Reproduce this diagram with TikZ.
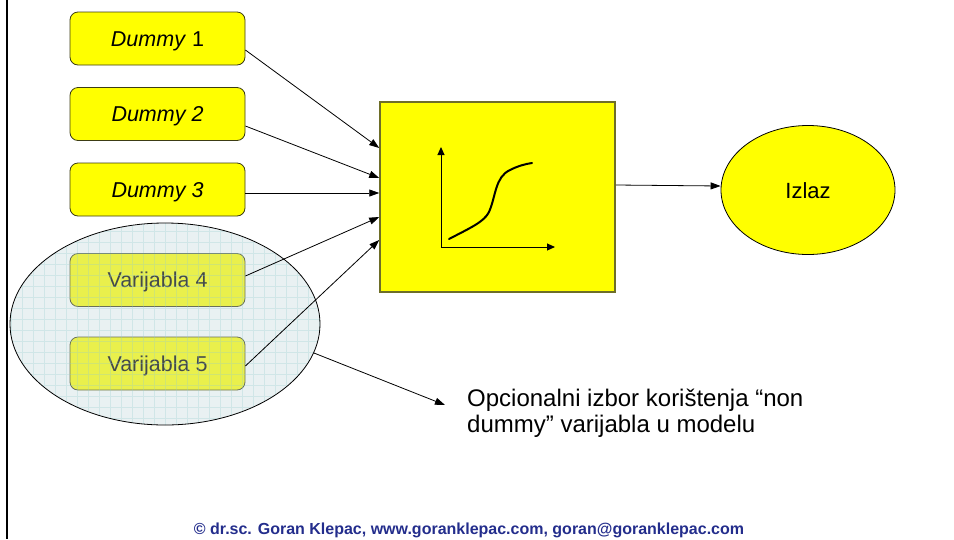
\documentclass[tikz,border=0pt]{standalone}
\usepackage{fontspec}
\setmainfont{Liberation Sans}
\usetikzlibrary{arrows.meta,shapes.geometric,calc}

\definecolor{boxyellow}{RGB}{255,255,0}
\definecolor{boxedge}{RGB}{60,60,20}
\definecolor{bigedge}{RGB}{110,110,40}
\definecolor{overlaytint}{RGB}{192,214,219}
\definecolor{gridtint}{RGB}{150,205,205}
\definecolor{footerblue}{RGB}{35,45,140}

\tikzset{
  inputbox/.style={draw=boxedge, line width=0.8pt, fill=boxyellow, rounded corners=8pt,
    minimum width=175pt, minimum height=53pt, inner sep=0pt,
    text height=15pt, text depth=0pt, font=\fontsize{21.5}{26}\selectfont},
  flowarrow/.style={draw=black, line width=0.8pt, -{Triangle[length=10pt,width=7pt]}},
  axisarrow/.style={draw=black, line width=1pt, -{Triangle[length=8pt,width=7pt]}},
}

\begin{document}
\begin{tikzpicture}[x=1pt,y=-1pt]
  \useasboundingbox (0,0) rectangle (954,539);

  % left page border
  \draw[line width=2.5pt] (7,0) -- (7,539);

  % input variables
  \node[inputbox] (d1) at (157.5,38.5) {\itshape Dummy\/ \upshape 1};
  \node[inputbox] (d2) at (157.5,114) {\itshape Dummy 2};
  \node[inputbox] (d3) at (157.5,189.5) {\itshape Dummy 3};
  \node[inputbox] (v4) at (157.5,280) {Varijabla 4};
  \node[inputbox] (v5) at (157.5,363.5) {Varijabla 5};

  % optional group: tinted ellipse with a fine grid laid over the two boxes
  \node[ellipse, minimum width=310pt, minimum height=202pt, inner sep=0pt,
        fill=overlaytint, fill opacity=0.35] (opt) at (165,324) {};
  \begin{scope}
    \clip (opt.center) ellipse [x radius=155pt, y radius=101pt];
    \draw[gridtint, line width=0.5pt, opacity=0.3, step=11pt] (0,210) grid (330,440);
  \end{scope}
  \draw[black, line width=0.8pt] (opt.center) ellipse [x radius=155pt, y radius=101pt];

  % model block with a sigmoid sketch
  \node[draw=bigedge, line width=1.5pt, fill=boxyellow, minimum width=235pt,
        minimum height=190pt, inner sep=0pt] (model) at (497.5,197) {};
  \draw[axisarrow] (441,247) -- (441,147);
  \draw[axisarrow] (441,247) -- (555,247);
  \draw[line width=2pt, line cap=round]
    (449,239) .. controls (470,228) and (484,222) .. (489,212)
              .. controls (496,196) and (495,177) .. (510,170)
              .. controls (518,166) and (525,164) .. (532,163);

  % output
  \node[ellipse, draw=black, line width=0.8pt, fill=boxyellow, minimum width=174pt,
        minimum height=129pt, inner sep=0pt, text height=16pt, text depth=0pt,
        font=\fontsize{22}{26}\selectfont] (out) at (808,190) {Izlaz};

  % connectors
  \draw[flowarrow] ([yshift=-11.5pt]d1.east) -- ([yshift=49pt]model.west);
  \draw[flowarrow] ([yshift=-12pt]d2.east) -- ([yshift=19pt]model.west);
  \draw[flowarrow] ([yshift=-3.5pt]d3.east) -- ([yshift=4pt]model.west);
  \draw[flowarrow] ([yshift=4pt]v4.east) -- ([yshift=-20pt]model.west);
  \draw[flowarrow] ([yshift=-2.5pt]v5.east) -- ([yshift=-43pt]model.west);
  \draw[flowarrow] ([yshift=12pt]model.east) -- ([yshift=4pt]out.west);

  % note on the optional group
  \coordinate (notetip) at (445,405);
  \draw[flowarrow] (opt.-11) -- (notetip);
  \node[anchor=west, inner sep=0pt, align=left, font=\fontsize{24}{26}\selectfont]
    (note) at (467,413) {Opcionalni izbor korištenja “non\\dummy” varijabla u modelu};

  % footer
  \node[anchor=base, inner sep=0pt, text=footerblue,
        font=\fontsize{16}{19}\selectfont\bfseries] (footer) at (469,534)
    {© dr.sc. Goran Klepac, www.goranklepac.com, goran@goranklepac.com};
\end{tikzpicture}
\end{document}
